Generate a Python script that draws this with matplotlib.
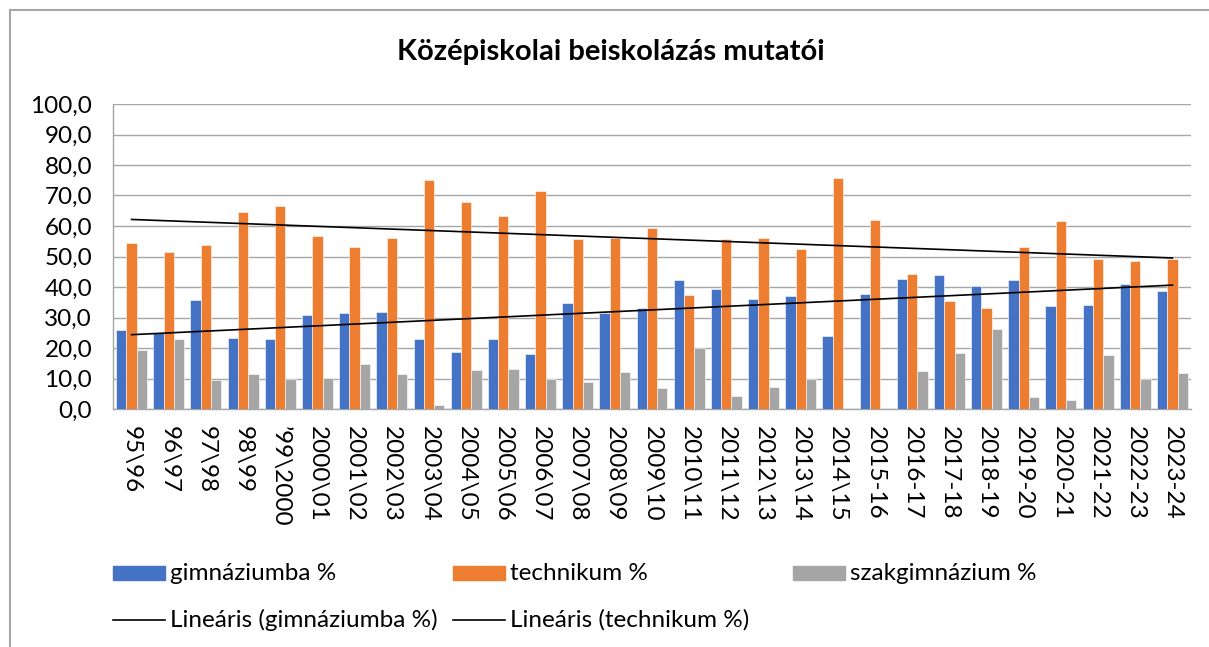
import matplotlib
matplotlib.use("Agg")
import matplotlib.pyplot as plt
import numpy as np
from matplotlib.patches import Rectangle
from matplotlib.lines import Line2D

plt.rcParams['font.family'] = ['Lato', 'DejaVu Sans']

labels = ["95\\96", "96\\97", "97\\98", "98\\99", "\u201999\\2000", "2000\\01", "2001\\02",
          "2002\\03", "2003\\04", "2004\\05", "2005\\06", "2006\\07", "2007\\08", "2008\\09",
          "2009\\10", "2010\\11", "2011\\12", "2012\\13", "2013\\14", "2014\\15", "2015-16",
          "2016-17", "2017-18", "2018-19", "2019-20", "2020-21", "2021-22", "2022-23", "2023-24"]
gimnazium = [25.8, 25.0, 35.8, 23.2, 23.0, 30.9, 31.5, 31.7, 23.1, 18.7, 23.0, 18.0, 34.9, 31.6,
             33.2, 42.4, 39.2, 36.2, 37.2, 23.9, 37.6, 42.7, 43.8, 40.2, 42.3, 33.7, 34.1, 40.9, 38.7]
technikum = [54.3, 51.5, 53.9, 64.6, 66.4, 56.8, 53.0, 56.2, 75.0, 67.9, 63.2, 71.4, 55.6, 56.0,
             59.5, 37.4, 55.7, 56.1, 52.3, 75.6, 62.1, 44.4, 35.3, 33.2, 53.2, 61.7, 49.2, 48.5, 49.1]
szakgimnazium = [19.2, 22.8, 9.6, 11.6, 9.9, 10.3, 14.9, 11.4, 1.2, 12.9, 13.2, 9.9, 9.0, 12.2,
                 6.8, 19.9, 4.4, 7.1, 9.9, 0.0, 0.0, 12.5, 18.5, 26.1, 4.0, 2.8, 17.7, 9.9, 11.8]

blue, orange, gray = "#4472C4", "#ED7D31", "#A5A5A5"
W, H = 1209, 647
fs = 17.5

fig = plt.figure(figsize=(W / 100, H / 100), dpi=100)
ax = fig.add_axes([113 / W, 1 - 409 / H, (1191 - 113) / W, (409 - 104) / H])

x = np.arange(len(labels))
w = 0.277
ax.bar(x - w, gimnazium, w, color=blue, edgecolor="white", linewidth=0.4, zorder=3)
ax.bar(x, technikum, w, color=orange, edgecolor="white", linewidth=0.4, zorder=3)
ax.bar(x + w, szakgimnazium, w, color=gray, edgecolor="white", linewidth=0.4, zorder=3)

# linear trendlines
for vals in (gimnazium, technikum):
    k, b = np.polyfit(x, vals, 1)
    ax.plot(x, k * x + b, color="black", lw=1.2, zorder=4)

ax.set_xlim(-0.5, len(labels) - 0.5)
ax.set_ylim(0, 100)
ax.set_yticks(np.arange(0, 101, 10))
ax.set_yticklabels([f"{v:.1f}".replace(".", ",") for v in np.arange(0, 101, 10)])
ax.set_xticks(x)
ax.set_xticklabels(labels, rotation=-90, ha="center", va="top")
ax.tick_params(axis="y", length=0, pad=15, labelsize=fs)
ax.tick_params(axis="x", length=0, pad=12, labelsize=fs)
ax.grid(axis="y", color="#A6A6A6", lw=1.0, zorder=0)
for s in ("top", "right"):
    ax.spines[s].set_visible(False)
for s in ("left", "bottom"):
    ax.spines[s].set_color("#A6A6A6")
    ax.spines[s].set_linewidth(1.0)

fig.text(611 / W, 1 - 52 / H, "Középiskolai beiskolázás mutatói", ha="center", va="center",
         fontsize=21, fontweight="bold")

# chart border
fig.add_artist(Line2D([10 / W, 1], [1 - 10 / H] * 2, color="#A6A6A6", lw=1.5))
fig.add_artist(Line2D([10 / W] * 2, [0, 1 - 10 / H], color="#A6A6A6", lw=1.5))

# legend
row1, row2 = 573, 620
items = [(113, blue, "gimnáziumba %"), (453, orange, "technikum %"), (793, gray, "szakgimnázium %")]
for px, c, t in items:
    fig.add_artist(Rectangle((px / W, 1 - (row1 + 7) / H), 52 / W, 14 / H, color=c))
    fig.text((px + 57) / W, 1 - row1 / H, t, ha="left", va="center", fontsize=fs)
for px, t in [(113, "Lineáris (gimnáziumba %)"), (453, "Lineáris (technikum %)")]:
    fig.add_artist(Line2D([px / W, (px + 52) / W], [1 - row2 / H] * 2, color="black", lw=1.2))
    fig.text((px + 57) / W, 1 - row2 / H, t, ha="left", va="center", fontsize=fs)

fig.savefig("out.png", dpi=100)
